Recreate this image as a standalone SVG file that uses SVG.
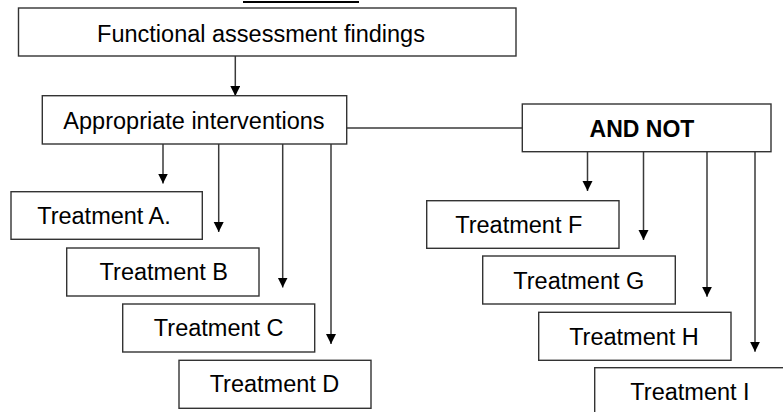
<svg xmlns="http://www.w3.org/2000/svg" width="783" height="412" viewBox="0 0 783 412">
<style>
.box{fill:#fff;stroke:#333;stroke-width:1.4}
.t{font-family:"Liberation Sans",Arial,sans-serif;font-size:23.5px;fill:#000;text-anchor:middle}
.b{font-weight:bold;font-size:23px}
.c{stroke:#3a3a3a;stroke-width:1.5;fill:none}
</style>
<defs>
<marker id="ah" markerUnits="userSpaceOnUse" markerWidth="11" markerHeight="11" refX="10" refY="5" orient="auto">
<path d="M0,0 L10,5 L0,10 z" fill="#000"/>
</marker>
</defs>
<line x1="243" y1="2" x2="359" y2="2" stroke="#000" stroke-width="2.2"/>
<g id="connectors">
<line class="c" x1="235.3" y1="56" x2="235.3" y2="96" marker-end="url(#ah)"/>
<line class="c" x1="347" y1="128" x2="522" y2="128"/>
<line class="c" x1="163" y1="144" x2="163" y2="183.5" marker-end="url(#ah)"/>
<line class="c" x1="218.7" y1="144" x2="218.7" y2="232" marker-end="url(#ah)"/>
<line class="c" x1="282.7" y1="144" x2="282.7" y2="287.5" marker-end="url(#ah)"/>
<line class="c" x1="331" y1="144" x2="331" y2="344" marker-end="url(#ah)"/>
<line class="c" x1="587.5" y1="152" x2="587.5" y2="191" marker-end="url(#ah)" stroke="#555" stroke-width="2"/>
<line class="c" x1="643.5" y1="152" x2="643.5" y2="240" marker-end="url(#ah)" stroke="#555" stroke-width="2"/>
<line class="c" x1="707" y1="152" x2="707" y2="296.7" marker-end="url(#ah)" stroke="#555" stroke-width="2"/>
<line class="c" x1="755" y1="152" x2="755" y2="351.7" marker-end="url(#ah)" stroke="#555" stroke-width="2"/>
</g>
<g id="functional">
<rect class="box" x="18.5" y="8" width="497.5" height="48"/>
<text class="t" x="261" y="41.5">Functional assessment findings</text>
</g>
<g id="appropriate">
<rect class="box" x="42.3" y="95.7" width="304.4" height="48.3"/>
<text class="t" x="194" y="129">Appropriate interventions</text>
</g>
<g id="andnot">
<rect class="box" x="522.3" y="104" width="248.7" height="47.7"/>
<text class="t b" x="642" y="136.7">AND NOT</text>
</g>
<g id="treatA">
<rect class="box" x="11" y="191.7" width="191.3" height="47.6"/>
<text class="t" x="104" y="224.3">Treatment A.</text>
</g>
<g id="treatB">
<rect class="box" x="66.7" y="248" width="192.3" height="48"/>
<text class="t" x="163.8" y="280">Treatment B</text>
</g>
<g id="treatC">
<rect class="box" x="122.7" y="304" width="192" height="48"/>
<text class="t" x="218.7" y="336">Treatment C</text>
</g>
<g id="treatD">
<rect class="box" x="179" y="360.3" width="192" height="48"/>
<text class="t" x="274.5" y="391.7">Treatment D</text>
</g>
<g id="treatF">
<rect class="box" x="426.7" y="200.7" width="192.3" height="47.6"/>
<text class="t" x="518.8" y="232.7">Treatment F</text>
</g>
<g id="treatG">
<rect class="box" x="482.7" y="256" width="192.6" height="48"/>
<text class="t" x="578.8" y="288.7">Treatment G</text>
</g>
<g id="treatH">
<rect class="box" x="538.7" y="312.3" width="192.3" height="48"/>
<text class="t" x="634" y="345">Treatment H</text>
</g>
<g id="treatI">
<rect class="box" x="594.7" y="367.7" width="192.3" height="48"/>
<text class="t" x="690" y="400">Treatment I</text>
</g>
</svg>
